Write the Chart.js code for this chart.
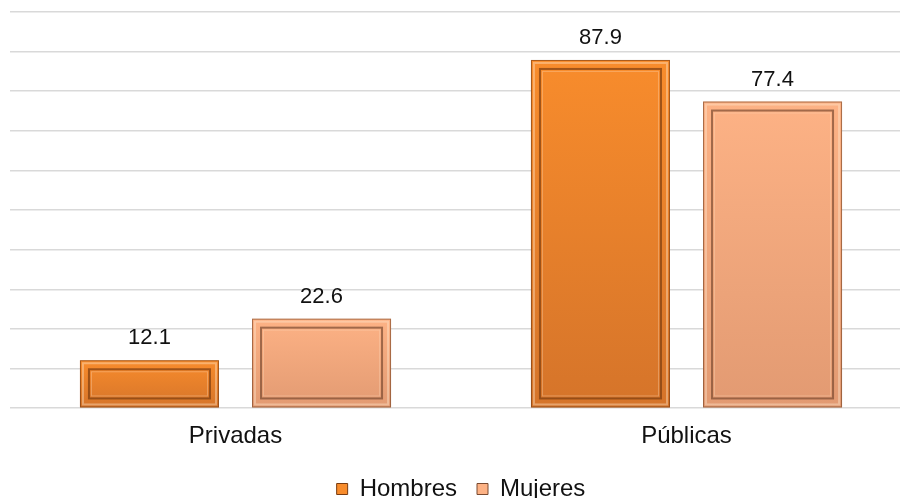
<!DOCTYPE html>
<html>
<head>
<meta charset="utf-8">
<script src="https://cdn.jsdelivr.net/npm/chart.js@4.4.0/dist/chart.umd.min.js"></script>
<style>
    html, body { margin: 0; padding: 0; background: #fff; overflow: hidden; }
    #wrap { width: 912px; height: 511px; }
</style>
</head>
<body>
<div id="wrap"><canvas id="barChart"></canvas></div>
<script>
// Data
const categories = ['Privadas', 'Públicas'];
const hombres = [12.1, 87.9];
const mujeres = [22.6, 77.4];

// Colors: [top, bottom, frame]
const hombresColors = ['#F88C2C', '#D5742A', '#7a3c10'];
const mujeresColors = ['#FDB285', '#E29A72', '#7a4a30'];
const fontFamily = '"Liberation Sans", Arial, sans-serif';

// vertical gradient over each bar
function gradient(context, colors) {
    const chart = context.chart;
    if (!chart.chartArea || context.raw === undefined) return colors[0];
    const y = chart.scales.y;
    const top = y.getPixelForValue(context.raw);
    const bottom = y.getPixelForValue(0);
    const g = chart.ctx.createLinearGradient(0, top, 0, bottom);
    g.addColorStop(0, colors[0]);
    g.addColorStop(1, colors[1]);
    return g;
}

// Bevel frame + value labels drawn on top of the bars
const bevelPlugin = {
    id: 'bevel',
    afterDatasetsDraw(chart) {
        const ctx = chart.ctx;
        chart.data.datasets.forEach(function(ds, di) {
            const meta = chart.getDatasetMeta(di);
            const colors = di === 0 ? hombresColors : mujeresColors;
            meta.data.forEach(function(bar, i) {
                const left = bar.x - bar.width / 2;
                const right = bar.x + bar.width / 2;
                const top = bar.y;
                const bottom = bar.base;
                const w = right - left;
                const h = bottom - top;
                ctx.save();
                // outer edge
                ctx.strokeStyle = 'rgba(90,40,10,0.5)';
                ctx.lineWidth = 1;
                ctx.strokeRect(left + 0.5, top + 0.5, w - 1, h - 1);
                // light bevel
                ctx.strokeStyle = 'rgba(255,235,210,0.4)';
                ctx.lineWidth = 2;
                ctx.strokeRect(left + 3, top + 3, w - 6, h - 6);
                // inner dark line
                ctx.strokeStyle = colors[2];
                ctx.globalAlpha = 0.7;
                ctx.lineWidth = 2;
                ctx.strokeRect(left + 9, top + 9, w - 18, h - 18);
                // inner highlight
                ctx.globalAlpha = 1;
                ctx.strokeStyle = 'rgba(255,220,190,0.35)';
                ctx.lineWidth = 1;
                ctx.strokeRect(left + 11.5, top + 11.5, w - 23, h - 23);
                ctx.restore();

                // value label
                ctx.save();
                ctx.fillStyle = '#111';
                ctx.font = '22px ' + fontFamily;
                ctx.textAlign = 'center';
                ctx.textBaseline = 'middle';
                ctx.fillText(ds.data[i].toFixed(1), bar.x, top - 22);
                ctx.restore();
            });
        });
    }
};

const ctx = document.getElementById('barChart').getContext('2d');
const myChart = new Chart(ctx, {
    type: 'bar',
    data: {
        labels: categories,
        datasets: [
            {
                label: 'Hombres',
                data: hombres,
                backgroundColor: function(c) { return gradient(c, hombresColors); },
                borderWidth: 0,
                categoryPercentage: 0.763,
                barPercentage: 0.808
            },
            {
                label: 'Mujeres',
                data: mujeres,
                backgroundColor: function(c) { return gradient(c, mujeresColors); },
                borderWidth: 0,
                categoryPercentage: 0.763,
                barPercentage: 0.808
            }
        ]
    },
    options: {
        responsive: true,
        maintainAspectRatio: false,
        animation: false,
        layout: {
            padding: { left: 10, top: 12, right: 0, bottom: 0 }
        },
        plugins: {
            legend: {
                position: 'bottom',
                labels: {
                    color: '#111',
                    font: { size: 24, family: fontFamily },
                    boxWidth: 11,
                    boxHeight: 11,
                    padding: 20,
                    generateLabels: function(chart) {
                        return chart.data.datasets.map(function(ds, i) {
                            const c = i === 0 ? hombresColors : mujeresColors;
                            return {
                                text: ds.label,
                                fillStyle: c[0],
                                strokeStyle: c[2],
                                lineWidth: 1,
                                fontColor: '#111',
                                datasetIndex: i
                            };
                        });
                    }
                }
            },
            tooltip: { enabled: false }
        },
        scales: {
            x: {
                grid: { display: false },
                border: { display: false },
                ticks: {
                    color: '#111',
                    font: { size: 24, family: fontFamily },
                    padding: 6
                }
            },
            y: {
                min: 0,
                max: 100,
                ticks: { display: false, stepSize: 10 },
                grid: { color: '#d9d9d9', lineWidth: 1.5, drawTicks: false },
                border: { display: false },
                afterFit: function(scale) { scale.width = 0; }
            }
        }
    },
    plugins: [bevelPlugin]
});
</script>
</body>
</html>
